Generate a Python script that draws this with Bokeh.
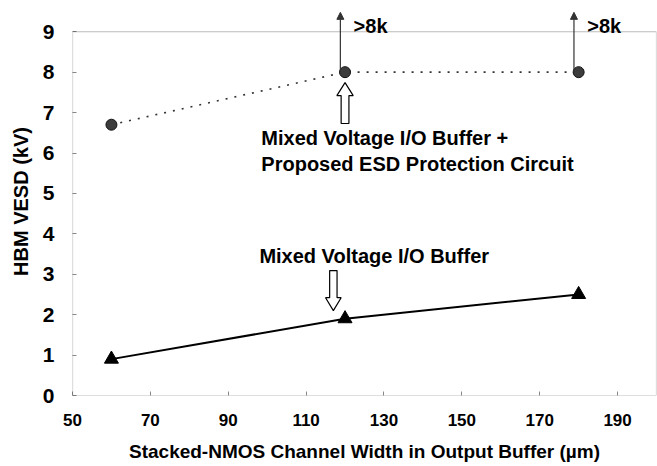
from bokeh.plotting import figure
from bokeh.models import Range1d, FixedTicker, Label, Arrow, NormalHead, BoxAnnotation
from bokeh.embed import file_html
from bokeh.resources import INLINE

# Stacked-NMOS channel width (um) and HBM ESD levels (kV)
widths = [60, 120, 180]
hbm_with_esd = [6.7, 8.0, 8.0]      # I/O buffer + proposed ESD protection circuit
hbm_buffer_only = [0.9, 1.9, 2.5]   # mixed-voltage I/O buffer alone
x_ticks = [50, 70, 90, 110, 130, 150, 170, 190]
y_ticks = [0, 1, 2, 3, 4, 5, 6, 7, 8, 9]
over_label = ">8k"

FONT = "Liberation Sans"
X_MIN, X_MAX = 50, 200
Y_MIN, Y_MAX = 0, 9
Y_HEADROOM = 9.6   # room above the box for the ">8k" markers

p = figure(width=657, height=466, output_backend="svg", toolbar_location=None,
           x_range=Range1d(X_MIN, X_MAX), y_range=Range1d(Y_MIN, Y_HEADROOM),
           min_border_left=72, min_border_right=1, min_border_top=7, min_border_bottom=71)

p.xgrid.visible = False
p.ygrid.visible = False
p.outline_line_color = None
p.background_fill_color = "white"
p.border_fill_color = "white"

# plot box spanning the value range 0..9
p.add_layout(BoxAnnotation(left=X_MIN, right=X_MAX, bottom=Y_MIN, top=Y_MAX,
                           fill_color=None, line_color="#222222", line_width=1.2))

for ax in (p.xaxis[0], p.yaxis[0]):
    ax.axis_line_color = None
    ax.major_tick_in = 4
    ax.major_tick_out = 0
    ax.minor_tick_line_color = None
    ax.major_tick_line_color = "#888888"
    ax.major_label_text_font = FONT
    ax.major_label_text_font_style = "bold"
    ax.major_label_text_color = "black"
    ax.axis_label_text_font = FONT
    ax.axis_label_text_font_style = "bold"
    ax.axis_label_text_color = "black"

p.xaxis.major_label_text_font_size = "17px"
p.yaxis.major_label_text_font_size = "21px"
p.xaxis.axis_label_text_font_size = "19px"
p.yaxis.axis_label_text_font_size = "20px"
p.xaxis.ticker = FixedTicker(ticks=x_ticks)
p.yaxis.ticker = FixedTicker(ticks=y_ticks)
p.xaxis.major_label_standoff = 18
p.yaxis.major_label_standoff = 18
p.xaxis.axis_label = "Stacked-NMOS Channel Width in Output Buffer (µm)"
p.yaxis.axis_label = "HBM VESD (kV)"
p.xaxis.axis_label_standoff = 12
p.yaxis.axis_label_standoff = 8

# upper series: dotted line with dark round markers
p.line(widths, hbm_with_esd, line_color="#333333", line_width=1.6, line_dash="2 7")
p.scatter(widths, hbm_with_esd, marker="circle", size=11,
          fill_color="#3c3c3c", line_color="#111111", line_width=1)

# lower series: solid line with triangles
p.line(widths, hbm_buffer_only, line_color="black", line_width=2)
p.scatter(widths, hbm_buffer_only, marker="triangle", size=14,
          fill_color="black", line_color="black")

# ">8k" arrows: the measurement exceeded the tester limit
for xv, yv in zip(widths, hbm_with_esd):
    if yv >= 8.0 and xv > widths[0]:
        p.add_layout(Arrow(x_start=xv - 1.2, y_start=yv, x_end=xv - 1.2, y_end=9.48,
                           line_color="#333333", line_width=1.2,
                           end=NormalHead(size=7, fill_color="#333333", line_color="#333333")))
        p.add_layout(Label(x=xv + 2.2, y=9.15, text=over_label, text_font=FONT,
                           text_font_style="bold", text_font_size="20px",
                           text_baseline="middle", text_align="left", text_color="black"))


def block_arrow(xc, y_tail, y_tip, shaft_w, head_w, head_len):
    """Hollow block arrow outline, pointing from y_tail toward y_tip."""
    d = 1 if y_tip > y_tail else -1
    y_base = y_tip - d * head_len
    xs = [xc - shaft_w / 2, xc - shaft_w / 2, xc - head_w / 2, xc,
          xc + head_w / 2, xc + shaft_w / 2, xc + shaft_w / 2]
    ys = [y_tail, y_base, y_base, y_tip, y_base, y_base, y_tail]
    p.patch(xs, ys, fill_color="white", line_color="black", line_width=1.2)


# hollow arrow pointing up at the 120 um point of the protected buffer
block_arrow(widths[1], 6.73, 7.74, 2.0, 4.2, 0.32)
# hollow arrow pointing down at the buffer-only curve
block_arrow(widths[1] - 3.0, 3.09, 2.10, 1.9, 4.0, 0.32)

text_style = dict(text_font=FONT, text_font_style="bold", text_font_size="20px",
                  text_baseline="middle", text_align="left", text_color="black")
p.add_layout(Label(x=98.5, y=6.38, text="Mixed Voltage I/O Buffer +", **text_style))
p.add_layout(Label(x=98.5, y=5.74, text="Proposed ESD Protection Circuit", **text_style))
p.add_layout(Label(x=98.0, y=3.46, text="Mixed Voltage I/O Buffer", **text_style))

open("out.html", "w").write(file_html(p, INLINE))
